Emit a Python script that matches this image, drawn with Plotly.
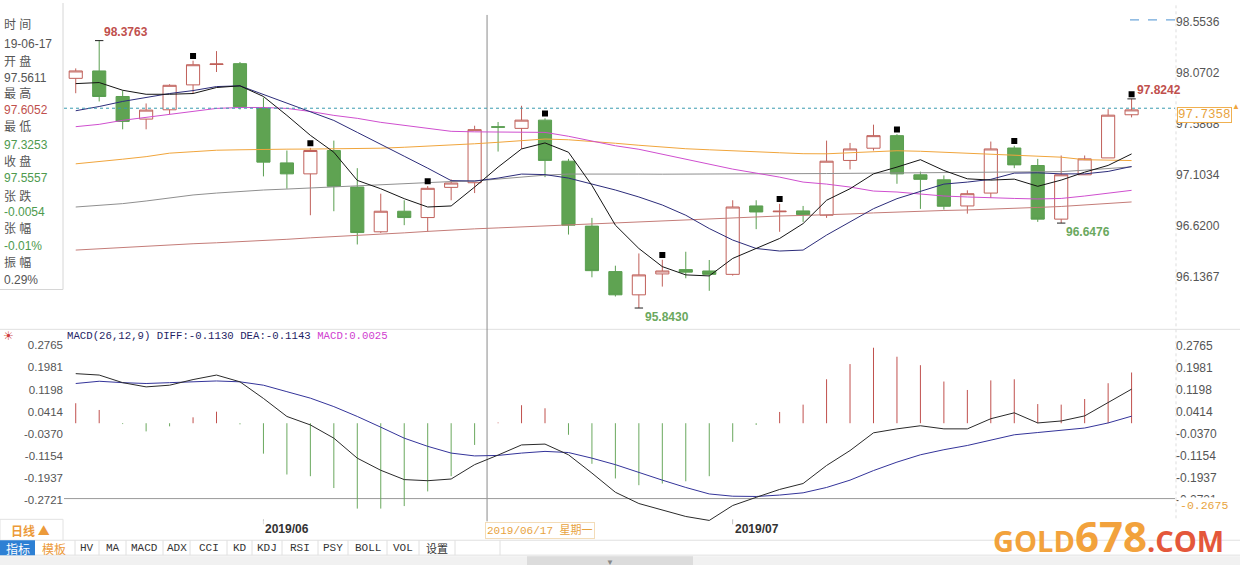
import plotly.graph_objects as go

W, H = 1240, 584

# ---------------- data ----------------
dates = ["2019-05-22", "2019-05-23", "2019-05-24", "2019-05-27", "2019-05-28", "2019-05-29", "2019-05-30", "2019-05-31",
         "2019-06-03", "2019-06-04", "2019-06-05", "2019-06-06", "2019-06-07", "2019-06-10", "2019-06-11", "2019-06-12",
         "2019-06-13", "2019-06-14", "2019-06-17", "2019-06-18", "2019-06-19", "2019-06-20", "2019-06-21", "2019-06-24",
         "2019-06-25", "2019-06-26", "2019-06-27", "2019-06-28", "2019-07-01", "2019-07-02", "2019-07-03", "2019-07-04",
         "2019-07-05", "2019-07-08", "2019-07-09", "2019-07-10", "2019-07-11", "2019-07-12", "2019-07-15", "2019-07-16",
         "2019-07-17", "2019-07-18", "2019-07-19", "2019-07-22", "2019-07-23", "2019-07-24"]

opens = [98.019, 98.089, 97.847, 97.633, 97.721, 97.957, 98.150, 98.158,
         97.734, 97.218, 97.114, 97.335, 96.989, 96.565, 96.760, 96.700,
         96.986, 97.030, 97.5611, 97.545, 97.623, 97.234, 96.619, 96.188,
         95.968, 96.166, 96.207, 96.194, 96.162, 96.810, 96.755, 96.763,
         96.722, 97.241, 97.357, 97.476, 97.105, 97.058, 96.810, 96.932,
         97.359, 97.193, 96.685, 97.105, 97.265, 97.674]
highs = [98.113, 98.3763, 97.903, 97.781, 97.963, 98.186, 98.277, 98.174,
         97.837, 97.335, 97.360, 97.429, 97.168, 96.926, 96.864, 96.998,
         97.062, 97.570, 97.6052, 97.759, 97.640, 97.256, 96.697, 96.244,
         96.360, 96.300, 96.376, 96.298, 96.864, 96.864, 96.830, 96.810,
         97.429, 97.407, 97.580, 97.490, 97.135, 97.099, 96.958, 97.420,
         97.380, 97.256, 97.288, 97.288, 97.727, 97.8242]
lows = [97.878, 97.800, 97.536, 97.536, 97.680, 97.875, 98.079, 97.724,
        97.090, 96.973, 96.722, 96.760, 96.445, 96.555, 96.628, 96.565,
        96.864, 96.932, 97.3253, 97.350, 97.083, 96.539, 96.134, 95.952,
        95.8430, 96.046, 96.125, 96.006, 96.150, 96.590, 96.565, 96.659,
        96.697, 97.156, 97.335, 97.020, 96.782, 96.775, 96.737, 96.885,
        97.168, 96.659, 96.6476, 97.105, 97.265, 97.649]
closes = [98.089, 97.847, 97.611, 97.718, 97.953, 98.148, 98.155, 97.750,
          97.225, 97.114, 97.335, 96.996, 96.558, 96.760, 96.700, 96.977,
          97.027, 97.533, 97.5557, 97.623, 97.241, 96.628, 96.197, 95.968,
          96.157, 96.194, 96.183, 96.162, 96.800, 96.753, 96.760, 96.728,
          97.234, 97.350, 97.476, 97.114, 97.062, 96.807, 96.926, 97.350,
          97.199, 96.685, 97.105, 97.256, 97.670, 97.720]

ma5 = [97.969, 97.979, 97.906, 97.868, 97.868, 97.875, 97.932, 97.948,
       97.847, 97.668, 97.479, 97.319, 97.052, 96.973, 96.879, 96.800,
       96.810, 96.989, 97.178, 97.350, 97.407, 97.319, 97.005, 96.628,
       96.407, 96.235, 96.157, 96.147, 96.313, 96.407, 96.502, 96.643,
       96.864, 96.973, 97.114, 97.178, 97.248, 97.146, 97.067, 97.055,
       97.064, 96.996, 97.055, 97.130, 97.194, 97.303]
ma10 = [97.712, 97.752, 97.800, 97.837, 97.875, 97.903, 97.941, 97.948,
        97.866, 97.781, 97.701, 97.620, 97.507, 97.390, 97.281, 97.168,
        97.050, 97.046, 97.074, 97.112, 97.107, 97.074, 97.017, 96.961,
        96.895, 96.819, 96.722, 96.596, 96.487, 96.407, 96.383, 96.392,
        96.534, 96.659, 96.784, 96.879, 96.951, 97.017, 97.036, 97.062,
        97.121, 97.124, 97.114, 97.114, 97.137, 97.184]
ma20 = [97.561, 97.583, 97.621, 97.649, 97.682, 97.710, 97.734, 97.743,
        97.743, 97.734, 97.705, 97.668, 97.640, 97.602, 97.573, 97.545,
        97.517, 97.512, 97.512, 97.510, 97.507, 97.470, 97.427, 97.380,
        97.347, 97.300, 97.253, 97.206, 97.159, 97.121, 97.083, 97.036,
        97.017, 96.989, 96.951, 96.942, 96.923, 96.904, 96.895, 96.885,
        96.881, 96.876, 96.881, 96.904, 96.928, 96.958]
ma30 = [97.209, 97.229, 97.253, 97.277, 97.310, 97.324, 97.338, 97.342,
        97.347, 97.348, 97.349, 97.350, 97.351, 97.357, 97.366, 97.375,
        97.385, 97.399, 97.413, 97.432, 97.444, 97.437, 97.423, 97.404,
        97.385, 97.366, 97.352, 97.342, 97.335, 97.324, 97.314, 97.305,
        97.304, 97.314, 97.324, 97.333, 97.328, 97.319, 97.310, 97.300,
        97.295, 97.288, 97.272, 97.248, 97.241, 97.240]
ma60 = [96.800, 96.815, 96.832, 96.857, 96.885, 96.914, 96.932, 96.948,
        96.961, 96.970, 96.980, 96.994, 97.005, 97.017, 97.027, 97.036,
        97.041, 97.046, 97.064, 97.083, 97.102, 97.112, 97.114, 97.113,
        97.112, 97.111, 97.111, 97.110, 97.110, 97.111, 97.113, 97.115,
        97.117, 97.119, 97.121, 97.122, 97.122, 97.123, 97.124, 97.126,
        97.128, 97.130, 97.135, 97.149, 97.168, 97.180]
ma120 = [96.392, 96.405, 96.414, 96.424, 96.438, 96.452, 96.461, 96.471,
         96.480, 96.494, 96.508, 96.518, 96.532, 96.541, 96.555, 96.569,
         96.584, 96.593, 96.602, 96.612, 96.621, 96.631, 96.640, 96.650,
         96.659, 96.668, 96.678, 96.687, 96.697, 96.706, 96.715, 96.720,
         96.725, 96.734, 96.744, 96.753, 96.763, 96.767, 96.772, 96.782,
         96.786, 96.796, 96.805, 96.819, 96.833, 96.848]

diff = [0.176, 0.171, 0.144, 0.129, 0.135, 0.155, 0.171, 0.147,
        0.088, 0.024, -0.006, -0.053, -0.124, -0.167, -0.200, -0.204,
        -0.198, -0.147, -0.1130, -0.077, -0.074, -0.112, -0.177, -0.245,
        -0.285, -0.309, -0.331, -0.345, -0.292, -0.263, -0.235, -0.214,
        -0.150, -0.097, -0.034, -0.020, -0.009, -0.020, -0.020, 0.016,
        0.037, 0.001, 0.008, 0.026, 0.072, 0.121]
dea = [0.141, 0.149, 0.144, 0.141, 0.144, 0.147, 0.150, 0.147,
       0.135, 0.112, 0.089, 0.059, 0.024, -0.014, -0.053, -0.082,
       -0.106, -0.116, -0.1143, -0.106, -0.100, -0.104, -0.124, -0.147,
       -0.175, -0.202, -0.228, -0.251, -0.259, -0.260, -0.255, -0.247,
       -0.228, -0.202, -0.168, -0.138, -0.112, -0.094, -0.079, -0.060,
       -0.041, -0.033, -0.025, -0.017, 0.001, 0.025]
macd_hist = [0.071, 0.047, -0.003, -0.029, -0.011, 0.021, 0.041, -0.004,
             -0.108, -0.182, -0.188, -0.230, -0.303, -0.303, -0.294, -0.242,
             -0.188, -0.077, 0.0025, 0.064, 0.053, -0.041, -0.144, -0.196,
             -0.220, -0.214, -0.206, -0.188, -0.066, -0.006, 0.040, 0.066,
             0.156, 0.210, 0.268, 0.236, 0.206, 0.148, 0.118, 0.152,
             0.156, 0.068, 0.066, 0.086, 0.142, 0.180]

price_ticks = [98.5536, 98.0702, 97.5868, 97.1034, 96.6200, 96.1367]
macd_ticks = [0.2765, 0.1981, 0.1198, 0.0414, -0.0370, -0.1154, -0.1937, -0.2721]
marked_days = ["2019-05-29", "2019-06-05", "2019-06-12", "2019-06-19", "2019-06-26",
               "2019-07-03", "2019-07-10", "2019-07-17", "2019-07-24"]
last_price = 97.7358
cursor_day = "2019-06-17"
cursor_macd = -0.2675
month_starts = [("2019-06-03", "2019/06"), ("2019-07-01", "2019/07")]
info_rows = [("时 间", "#555555"), ("19-06-17", "#555555"), ("开 盘", "#555555"), ("97.5611", "#555555"),
             ("最 高", "#555555"), ("97.6052", "#c0504d"), ("最 低", "#555555"), ("97.3253", "#4e9a4e"),
             ("收 盘", "#555555"), ("97.5557", "#4e9a4e"), ("张 跌", "#555555"), ("-0.0054", "#4e9a4e"),
             ("张 幅", "#555555"), ("-0.01%", "#4e9a4e"), ("振 幅", "#555555"), ("0.29%", "#555555")]
toolbar_items = ["HV", "MA", "MACD", "ADX", "CCI", "KD", "KDJ", "RSI", "PSY", "BOLL", "VOL", "设置"]

# ---------------- styling ----------------
UP = "#c0605a"
DOWN = "#5a9e50"
DOWN_FILL = "#5fa352"
LEFT_PX, RIGHT_PX = 64, 1175


def px(x):
    return x / W


def py(y):
    return 1 - y / H


fig = go.Figure()

fig.add_trace(go.Candlestick(
    x=dates, open=opens, high=highs, low=lows, close=closes,
    increasing=dict(fillcolor="white", line=dict(color=UP, width=1)),
    decreasing=dict(fillcolor=DOWN_FILL, line=dict(color=DOWN, width=1)),
    whiskerwidth=0, showlegend=False, hoverinfo="skip", xaxis="x", yaxis="y"))

ma_styles = [(ma120, "#c47c78"), (ma60, "#8f8f8f"), (ma30, "#f0a53c"),
             (ma20, "#cf4fcf"), (ma10, "#2c2c7a"), (ma5, "#141414")]
for vals, col in ma_styles:
    fig.add_trace(go.Scatter(x=dates, y=vals, mode="lines", line=dict(color=col, width=1),
                             showlegend=False, hoverinfo="skip", xaxis="x", yaxis="y"))

# black square marks above the highs
mark_pad = 0.045
fig.add_trace(go.Scatter(
    x=marked_days, y=[highs[dates.index(d)] + mark_pad for d in marked_days],
    mode="markers", marker=dict(symbol="square", size=6, color="black"),
    showlegend=False, hoverinfo="skip", xaxis="x", yaxis="y"))

# extreme labels
i_hi = highs.index(max(highs))
i_lo = lows.index(min(lows))
i_lo2 = dates.index("2019-07-19")
i_hi2 = len(dates) - 1
fig.add_trace(go.Scatter(
    x=[dates[i_hi], dates[i_lo], dates[i_lo2], dates[i_hi2]],
    y=[highs[i_hi], lows[i_lo], lows[i_lo2], highs[i_hi2]],
    mode="markers", marker=dict(symbol="line-ew", size=6, line=dict(color="#222", width=1)),
    showlegend=False, hoverinfo="skip", xaxis="x", yaxis="y"))


# MACD histogram as thin sticks
def sticks(sign):
    xs, ys = [], []
    for d, v in zip(dates, macd_hist):
        if (v >= 0) == sign:
            xs += [d, d, None]
            ys += [0, v, None]
    return xs, ys


for sign, col in [(True, "#c0504d"), (False, "#6aa85e")]:
    xs, ys = sticks(sign)
    fig.add_trace(go.Scatter(x=xs, y=ys, mode="lines", line=dict(color=col, width=1),
                             showlegend=False, hoverinfo="skip", xaxis="x2", yaxis="y2"))

fig.add_trace(go.Scatter(x=dates, y=dea, mode="lines", line=dict(color="#34349a", width=1),
                         showlegend=False, hoverinfo="skip", xaxis="x2", yaxis="y2"))
fig.add_trace(go.Scatter(x=dates, y=diff, mode="lines", line=dict(color="#2a2a2a", width=1),
                         showlegend=False, hoverinfo="skip", xaxis="x2", yaxis="y2"))
fig.add_trace(go.Scatter(x=[dates[0]], y=[0], mode="markers", marker=dict(opacity=0),
                         showlegend=False, hoverinfo="skip", xaxis="x2", yaxis="y3"))

# ---------------- axes ----------------
xdom = [px(LEFT_PX), px(RIGHT_PX)]
cat_range = [-0.5, len(dates) + 0.85]
main_top_val = price_ticks[0] + 19 / 106.1
main_bot_val = price_ticks[0] - (328 - 19) / 106.1
MACD_TOP_PX, MACD_BOT_PX, MACD_ZERO_PX, MACD_SCALE = 340, 523, 422.4, 283.2
macd_top = (MACD_ZERO_PX - MACD_TOP_PX) / MACD_SCALE
macd_bot = -(MACD_BOT_PX - MACD_ZERO_PX) / MACD_SCALE
tickfont = dict(family="Liberation Sans, Arial", size=12, color="#555555")

fig.update_layout(
    width=W, height=H, margin=dict(l=0, r=0, t=0, b=0),
    paper_bgcolor="white", plot_bgcolor="rgba(0,0,0,0)", showlegend=False,
    boxgap=0.2,
    xaxis=dict(domain=xdom, type="category", range=cat_range, showticklabels=False,
               showgrid=False, zeroline=False, showline=False, ticks="",
               rangeslider=dict(visible=False), anchor="y"),
    yaxis=dict(domain=[py(328), py(0)], range=[main_bot_val, main_top_val], side="right",
               tickvals=price_ticks, ticktext=[f"{v:.4f}" for v in price_ticks],
               showgrid=False, zeroline=False, showline=False, ticks="", tickfont=tickfont,
               anchor="x"),
    xaxis2=dict(domain=xdom, type="category", range=cat_range, showticklabels=False,
                showgrid=False, zeroline=False, showline=False, ticks="", anchor="y2",
                matches="x"),
    yaxis2=dict(domain=[py(MACD_BOT_PX), py(MACD_TOP_PX)], range=[macd_bot, macd_top], side="left",
                tickvals=macd_ticks, ticktext=[f"{v:.4f}" for v in macd_ticks],
                showgrid=False, zeroline=False, showline=False, ticks="",
                tickfont=dict(family="Liberation Sans, Arial", size=11.5, color="#555555"),
                anchor="x2"),
    yaxis3=dict(overlaying="y2", range=[macd_bot, macd_top], side="right",
                tickvals=macd_ticks, ticktext=[f"{v:.4f}" for v in macd_ticks],
                showgrid=False, zeroline=False, showline=False, ticks="", tickfont=tickfont,
                anchor="x2"),
)

# ---------------- shapes ----------------
shapes = []
gray = "#d6d6d6"
# info panel border
shapes.append(dict(type="line", xref="paper", yref="paper", x0=px(63), x1=px(63), y0=py(288), y1=py(0),
                   line=dict(color=gray, width=1), layer="below"))
shapes.append(dict(type="line", xref="paper", yref="paper", x0=0, x1=px(63), y0=py(288), y1=py(288),
                   line=dict(color=gray, width=1), layer="below"))
# panel separators
for yy in [328, 540, 555]:
    shapes.append(dict(type="line", xref="paper", yref="paper", x0=0, x1=1, y0=py(yy), y1=py(yy),
                       line=dict(color="#e0e0e0", width=1), layer="below"))
# right axis dotted line
shapes.append(dict(type="line", xref="paper", yref="paper", x0=px(1176), x1=px(1176), y0=py(518), y1=py(0),
                   line=dict(color="#dddddd", width=1, dash="dot"), layer="below"))
# last price dashed line
shapes.append(dict(type="line", xref="paper", yref="y", x0=px(LEFT_PX), x1=px(RIGHT_PX),
                   y0=last_price, y1=last_price, line=dict(color="#3a9bb0", width=1, dash="3px,3px")))
# top right dashed marker
shapes.append(dict(type="line", xref="paper", yref="paper", x0=px(1130), x1=px(1175), y0=py(17), y1=py(17),
                   line=dict(color="#4a90d0", width=1, dash="dash")))
# cursor lines
cx = dates.index(cursor_day) - 0.47
shapes.append(dict(type="line", xref="x", yref="paper", x0=cx, x1=cx, y0=py(521), y1=py(12),
                   line=dict(color="#8a8a8a", width=1), layer="below"))
shapes.append(dict(type="line", xref="paper", yref="y2", x0=px(LEFT_PX), x1=px(RIGHT_PX),
                   y0=cursor_macd, y1=cursor_macd, line=dict(color="#9a9a9a", width=1), layer="below"))
# month tick marks
for d, _ in month_starts:
    k = dates.index(d)
    shapes.append(dict(type="line", xref="x", yref="paper", x0=k, x1=k, y0=py(524), y1=py(519),
                       line=dict(color="#bbbbbb", width=1), layer="below"))
# left box of date row
shapes.append(dict(type="rect", xref="paper", yref="paper", x0=0, x1=px(63), y0=py(540), y1=py(519),
                   line=dict(color="#e2e2e2", width=1), fillcolor="white", layer="below"))
# toolbar
shapes.append(dict(type="rect", xref="paper", yref="paper", x0=0, x1=px(35), y0=py(555), y1=py(540),
                   line=dict(width=0), fillcolor="#2d80d4", layer="below"))
seps = [75, 99, 126, 163, 190, 227, 252, 282, 318, 348, 387, 419, 455, 500]
for sx in seps:
    shapes.append(dict(type="line", xref="paper", yref="paper", x0=px(sx), x1=px(sx), y0=py(555), y1=py(540),
                       line=dict(color="#e0e0e0", width=1), layer="below"))
# bottom scroll bar
shapes.append(dict(type="rect", xref="paper", yref="paper", x0=0, x1=1, y0=py(565), y1=py(556),
                   line=dict(width=0), fillcolor="#f1f1f1", layer="below"))
shapes.append(dict(type="rect", xref="paper", yref="paper", x0=px(527), x1=px(693), y0=py(565), y1=py(556),
                   line=dict(width=0), fillcolor="#dcdcdc", layer="below"))
fig.update_layout(shapes=shapes)

# ---------------- annotations ----------------
ann = []
info_y = [22, 41, 59, 75, 91, 108, 125, 143, 159, 176, 194, 210, 227, 244, 261, 278]
for (txt, col), yy in zip(info_rows, info_y):
    ann.append(dict(text=txt, xref="paper", yref="paper", x=px(2), y=py(yy), xanchor="left", yanchor="middle",
                    showarrow=False, font=dict(family="Liberation Sans, Noto Sans CJK SC", size=12, color=col)))

lab_font_r = dict(family="Liberation Sans, Arial", size=12, color="#c0504d")
lab_font_g = dict(family="Liberation Sans, Arial", size=12, color="#6aa85e")
ann.append(dict(text=f"<b>{highs[i_hi]:.4f}</b>", x=dates[i_hi], y=highs[i_hi], xref="x", yref="y",
                xanchor="left", yanchor="bottom", xshift=3, yshift=0, showarrow=False, font=lab_font_r))
ann.append(dict(text=f"<b>{lows[i_lo]:.4f}</b>", x=dates[i_lo], y=lows[i_lo], xref="x", yref="y",
                xanchor="left", yanchor="top", xshift=4, yshift=0, showarrow=False, font=lab_font_g))
ann.append(dict(text=f"<b>{lows[i_lo2]:.4f}</b>", x=dates[i_lo2], y=lows[i_lo2], xref="x", yref="y",
                xanchor="left", yanchor="top", xshift=3, yshift=0, showarrow=False, font=lab_font_g))
ann.append(dict(text=f"<b>{highs[i_hi2]:.4f}</b>", x=dates[i_hi2], y=highs[i_hi2], xref="x", yref="y",
                xanchor="left", yanchor="bottom", xshift=3, yshift=0, showarrow=False, font=lab_font_r))

# last price tag
ann.append(dict(text=f"{last_price:.4f}", xref="paper", yref="y", x=px(1177), y=last_price, xanchor="left",
                yanchor="top", yshift=1, showarrow=False, bgcolor="white", bordercolor="#f0b050", borderwidth=1,
                borderpad=0, font=dict(family="Liberation Mono, monospace", size=12.5, color="#e8a33d")))
ann.append(dict(text="▲", xref="paper", yref="paper", x=px(1236), y=py(103), xanchor="center", yanchor="middle",
                showarrow=False, font=dict(size=8, color="#f0a53c")))

# MACD header
ann.append(dict(text="☀", xref="paper", yref="paper", x=px(8), y=py(334), xanchor="center", yanchor="middle",
                showarrow=False, font=dict(size=12, color="#d04040")))
k0 = dates.index(cursor_day)
hdr = (f"MACD(26,12,9) DIFF:{diff[k0]:.4f} DEA:{dea[k0]:.4f} "
       f"<span style='color:#d040d0'>MACD:{macd_hist[k0]:.4f}</span>")
ann.append(dict(text=hdr, xref="paper", yref="paper", x=px(65), y=py(335), xanchor="left", yanchor="middle",
                showarrow=False, font=dict(family="Liberation Mono, monospace", size=10.7, color="#1f1f66")))

# cursor value tag in MACD
ann.append(dict(text=f"{cursor_macd:.4f}", xref="paper", yref="paper", x=px(1178), y=py(505), xanchor="left",
                yanchor="middle", showarrow=False, bgcolor="white", borderpad=1,
                font=dict(family="Liberation Mono, monospace", size=11.5, color="#e8a33d")))

# date row
for d, lab in month_starts:
    ann.append(dict(text=f"<b>{lab}</b>", x=d, y=py(529), xref="x", yref="paper", xanchor="left",
                    yanchor="middle", xshift=0, showarrow=False, bgcolor="white",
                    font=dict(family="Liberation Sans, Arial", size=12, color="#333333")))
ann.append(dict(text="2019/06/17 星期一", xref="paper", yref="paper", x=px(485), y=py(530), xanchor="left",
                yanchor="middle", showarrow=False, bgcolor="white", bordercolor="#f3dcb8", borderwidth=1,
                borderpad=1, font=dict(family="Liberation Mono, Noto Sans CJK SC", size=11, color="#e8a33d")))
ann.append(dict(text="<b>日线 ▲</b>", xref="paper", yref="paper", x=px(30), y=py(530), xanchor="center",
                yanchor="middle", showarrow=False,
                font=dict(family="Noto Sans CJK SC", size=12, color="#ec9a3a")))

# toolbar
ann.append(dict(text="指标", xref="paper", yref="paper", x=px(17.5), y=py(548), xanchor="center",
                yanchor="middle", showarrow=False, font=dict(family="Noto Sans CJK SC", size=12, color="white")))
ann.append(dict(text="模板", xref="paper", yref="paper", x=px(54), y=py(548), xanchor="center",
                yanchor="middle", showarrow=False, font=dict(family="Noto Sans CJK SC", size=12, color="#ec9a3a")))
for k, item in enumerate(toolbar_items):
    cxp = (seps[k] + seps[k + 1]) / 2
    fam = "Noto Sans CJK SC" if item == "设置" else "Liberation Mono, monospace"
    ann.append(dict(text=item, xref="paper", yref="paper", x=px(cxp), y=py(548), xanchor="center",
                    yanchor="middle", showarrow=False, font=dict(family=fam, size=11, color="#333333")))
ann.append(dict(text="▼", xref="paper", yref="paper", x=px(610), y=py(561), xanchor="center",
                yanchor="middle", showarrow=False, font=dict(size=8, color="#888888")))

# watermark
wm = ("<b><span style='font-size:29px'>GOLD</span><span style='font-size:42px'>678</span>"
      "<span style='font-size:29px;color:#e4573a'>.COM</span></b>")
ann.append(dict(text=wm, xref="paper", yref="paper", x=px(991), y=py(566), xanchor="left", yanchor="bottom",
                showarrow=False, font=dict(family="Open Sans, DejaVu Sans", size=29, color="#f2a23c")))

fig.update_layout(annotations=ann)

fig.write_html("out.html")
